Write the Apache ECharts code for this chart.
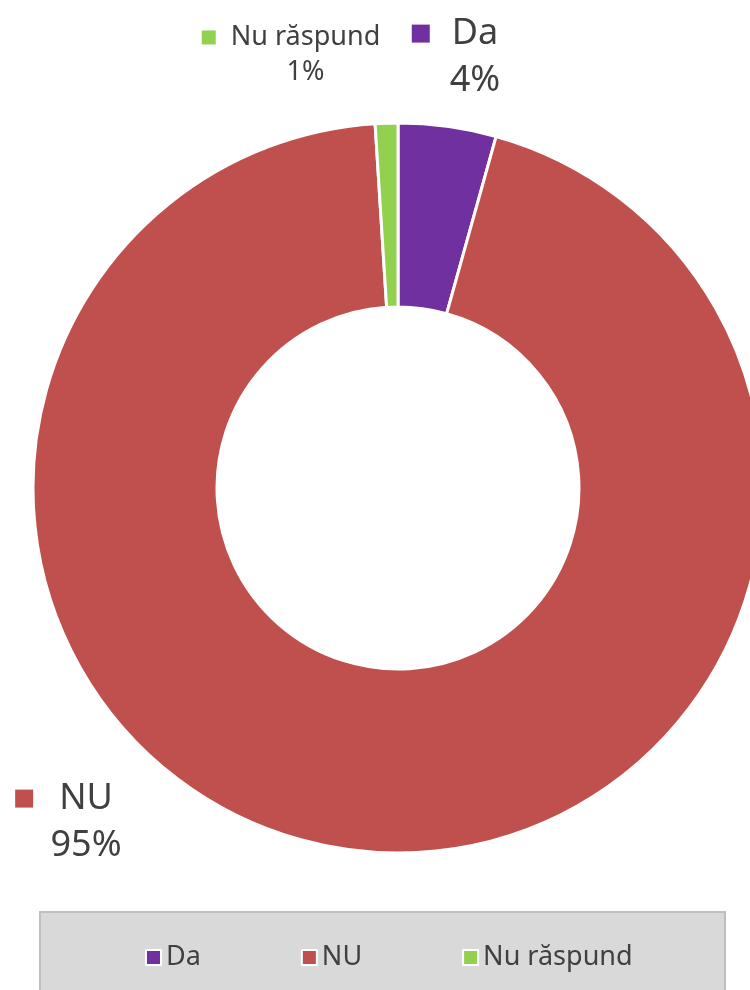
<!DOCTYPE html>
<html>
<head>
<meta charset="utf-8">
<script src="https://cdn.jsdelivr.net/npm/echarts@6/dist/echarts.min.js"></script>
<style>
    html, body { margin: 0; padding: 0; background: #fff; }
    #main { width: 750px; height: 990px; }
</style>
</head>
<body>
<div id="main"></div>
<script>
// datele graficului
var categories = ['Da', 'NU', 'Nu răspund'];
var values = [13, 284, 3];

var colors = ['#7030A0', '#C0504D', '#92D050'];
// pozitia etichetelor (mutate manual ca in original)
var labelPos = [[455, 57], [64, 822], [291, 55]];
var labelSize = [36, 36, 27];
var markSize = [18, 18, 14];
var markGap = [22, 26, 15];

var myChart = echarts.init(document.getElementById('main'));
var total = values.reduce(function (a, b) { return a + b; }, 0);

var seriesData = categories.map(function (name, i) {
    var fs = labelSize[i];
    var rich = {
        m: { width: markSize[i], height: markSize[i], backgroundColor: colors[i], verticalAlign: 'middle' },
        g: { width: markGap[i] },
        g2: { width: markSize[i] + markGap[i] },
        n: { fontSize: fs, color: '#404040', fontFamily: 'Noto Sans', lineHeight: fs * 1.3 },
        p: { fontSize: fs, color: '#404040', fontFamily: 'Noto Sans', lineHeight: fs * 1.3 }
    };
    return {
        name: name,
        value: values[i],
        itemStyle: { color: colors[i] },
        label: {
            formatter: function () {
                var pct = Math.round(values[i] / total * 100) + '%';
                return '{m|}{g|}{n|' + name + '}\n{g2|}{p|' + pct + '}';
            },
            rich: rich
        }
    };
});

var option = {
    animation: false,
    graphic: [{
        type: 'rect',
        z: 0,
        shape: { x: 40, y: 912, width: 685, height: 100 },
        style: { fill: '#D9D9D9', stroke: '#BFBFBF', lineWidth: 2 }
    }],
    legend: {
        data: categories,
        left: 145,
        top: 944,
        padding: 0,
        itemGap: 100,
        itemWidth: 15,
        itemHeight: 15,
        icon: 'rect',
        itemStyle: { borderColor: '#fff', borderWidth: 2 },
        textStyle: { fontSize: 27, color: '#404040', fontFamily: 'Noto Sans' }
    },
    series: [{
        type: 'pie',
        center: [398, 488],
        radius: [181, 365],
        startAngle: 90,
        clockwise: true,
        silent: true,
        itemStyle: { borderColor: '#fff', borderWidth: 3 },
        label: { show: true, position: 'outside', align: 'center' },
        labelLine: { show: false },
        labelLayout: function (params) {
            var p = labelPos[params.dataIndex];
            return { x: p[0], y: p[1], align: 'center', verticalAlign: 'middle' };
        },
        data: seriesData
    }]
};
myChart.setOption(option);
</script>
</body>
</html>
